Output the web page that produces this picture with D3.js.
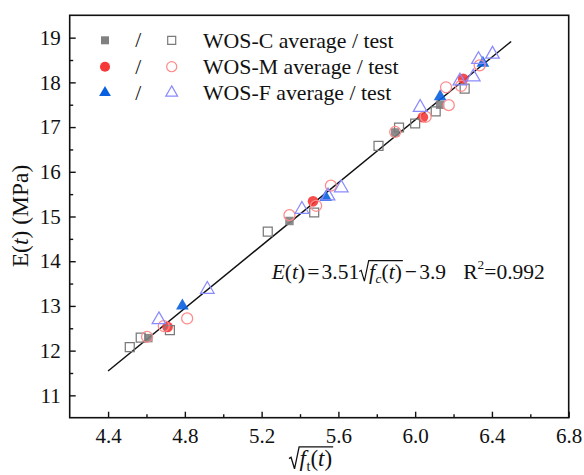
<!DOCTYPE html>
<html>
<head>
<meta charset="utf-8">
<script src="https://cdn.jsdelivr.net/npm/d3@7"></script>
<style>
  html, body { margin: 0; padding: 0; background: #fff; }
  svg { display: block; }
  svg text { font-family: 'Liberation Serif', 'Times New Roman', Times, 'DejaVu Serif', serif; fill: #111; }
</style>
</head>
<body>
<svg id="chart" width="584" height="475"></svg>
<script>
// ---------------- data ----------------
const xMajorTicks = [4.4, 4.8, 5.2, 5.6, 6.0, 6.4, 6.8];
const xMinorTicks = [4.6, 5.0, 5.4, 5.8, 6.2, 6.6];
const yMajorTicks = [11, 12, 13, 14, 15, 16, 17, 18, 19];
const yMinorTicks = [11.5, 12.5, 13.5, 14.5, 15.5, 16.5, 17.5, 18.5];

// WOS-C
const cAvgX  = [4.61, 5.345, 5.896, 6.13];
const cAvgY  = [12.28, 14.90, 16.88, 17.50];
const cTestX = [4.513, 4.570, 4.722, 5.232, 5.474, 5.809, 5.916, 6.000, 6.107, 6.258];
const cTestY = [12.08, 12.29, 12.46, 14.66, 15.09, 16.58, 16.99, 17.08, 17.35, 17.86];
// WOS-M
const mAvgX  = [4.71, 5.468, 6.04, 6.25];
const mAvgY  = [12.53, 15.34, 17.22, 18.08];
const mTestX = [4.603, 4.690, 4.812, 5.345, 5.484, 5.561, 5.896, 6.055, 6.161, 6.175, 6.239, 6.336];
const mTestY = [12.31, 12.55, 12.72, 15.03, 15.24, 15.69, 16.89, 17.23, 17.89, 17.49, 17.92, 18.38];
// WOS-F
const fAvgX  = [4.787, 5.534, 6.130, 6.353];
const fAvgY  = [13.00, 15.43, 17.68, 18.43];
const fTestX = [4.665, 4.917, 5.410, 5.546, 5.615, 6.026, 6.233, 6.303, 6.330, 6.403];
const fTestY = [12.69, 13.37, 15.16, 15.46, 15.64, 17.44, 18.03, 18.12, 18.51, 18.63];

// fit: E = a*sqrt(fc) + b
const fitA = 3.51, fitB = -3.9;
const fitRange = [4.4, 6.5];
const r2Text = "0.992";

const legendLabels = ["WOS-C average / test", "WOS-M average / test", "WOS-F average / test"];

// ---------------- layout ----------------
const svg = d3.select("#chart");
const X0 = 69.7, X1 = 568.7, Y0 = 417.7, Y1 = 15.3;
const x = d3.scaleLinear().domain([4.2, 6.8]).range([X0, X1]);
const y = d3.scaleLinear().domain([10.5, 19.5]).range([Y0, Y1]);
const FONT = "'Liberation Serif', 'Times New Roman', Times, 'DejaVu Serif', serif";

const grayFill = "#808080", grayStroke = "#7a7a7a";
const redFill = "#f53838", redStroke = "#ff8a8a";
const blueFill = "#0860e0", blueStroke = "#8a8aff";

// axes (ticks inward)
const gx = svg.append("g").attr("transform", `translate(0,${Y0})`)
  .call(d3.axisBottom(x).tickValues(xMajorTicks).tickFormat(d3.format(".1f"))
    .tickSizeInner(-6).tickSizeOuter(0).tickPadding(10));
const gxm = svg.append("g").attr("transform", `translate(0,${Y0})`)
  .call(d3.axisBottom(x).tickValues(xMinorTicks).tickFormat("")
    .tickSizeInner(-3.5).tickSizeOuter(0));
const gy = svg.append("g").attr("transform", `translate(${X0},0)`)
  .call(d3.axisLeft(y).tickValues(yMajorTicks).tickFormat(d3.format("d"))
    .tickSizeInner(-6).tickSizeOuter(0).tickPadding(9));
const gym = svg.append("g").attr("transform", `translate(${X0},0)`)
  .call(d3.axisLeft(y).tickValues(yMinorTicks).tickFormat("")
    .tickSizeInner(-3.5).tickSizeOuter(0));
[gx, gxm, gy, gym].forEach(g => {
  g.attr("font-family", null).attr("font-size", null);
  g.select(".domain").remove();
  g.selectAll(".tick line").attr("stroke", "#111").attr("stroke-width", 1.4);
  g.selectAll(".tick text").style("font-family", FONT).attr("font-size", 21).attr("fill", "#111");
});

// frame
svg.append("rect").attr("x", X0).attr("y", Y1).attr("width", X1 - X0).attr("height", Y0 - Y1)
  .attr("fill", "none").attr("stroke", "#111").attr("stroke-width", 1.6);

// fit line
svg.append("line")
  .attr("x1", x(fitRange[0])).attr("y1", y(fitA * fitRange[0] + fitB))
  .attr("x2", x(fitRange[1])).attr("y2", y(fitA * fitRange[1] + fitB))
  .attr("stroke", "#111").attr("stroke-width", 1.5);

// markers
const sq = d3.symbol().type(d3.symbolSquare).size(72);
const ci = d3.symbol().type(d3.symbolCircle).size(90);
const tr = d3.symbol().type(d3.symbolTriangle).size(70);
function pts(xs, ys) { return xs.map((v, i) => [v, ys[i]]); }
function drawMarks(data, sym, fill, stroke, opacity) {
  svg.append("g").selectAll("path").data(data).join("path")
    .attr("d", sym)
    .attr("transform", d => `translate(${x(d[0])},${y(d[1])})`)
    .attr("fill", fill || "none")
    .attr("fill-opacity", opacity || 1)
    .attr("stroke", stroke || "none")
    .attr("stroke-width", 1.25);
}
drawMarks(pts(cAvgX, cAvgY), sq, grayFill, null, 0.9);
drawMarks(pts(mAvgX, mAvgY), ci, redFill, null, 0.9);
drawMarks(pts(fAvgX, fAvgY), tr, blueFill, null, 0.9);
drawMarks(pts(cTestX, cTestY), d3.symbol().type(d3.symbolSquare).size(80), null, grayStroke);
drawMarks(pts(mTestX, mTestY), d3.symbol().type(d3.symbolCircle).size(95), null, redStroke);
drawMarks(pts(fTestX, fTestY), d3.symbol().type(d3.symbolTriangle).size(80), null, blueStroke);

// legend
const legRows = [40.3, 66.7, 92.7];
const legFilled = [[d3.symbol().type(d3.symbolSquare).size(64), grayFill],
                   [d3.symbol().type(d3.symbolCircle).size(80), redFill],
                   [d3.symbol().type(d3.symbolTriangle).size(60), blueFill]];
const legOpen = [[d3.symbol().type(d3.symbolSquare).size(64), grayStroke],
                 [d3.symbol().type(d3.symbolCircle).size(80), redStroke],
                 [d3.symbol().type(d3.symbolTriangle).size(60), blueStroke]];
legendLabels.forEach((lab, i) => {
  const cy = legRows[i];
  svg.append("path").attr("d", legFilled[i][0]).attr("transform", `translate(105,${cy})`)
    .attr("fill", legFilled[i][1]);
  svg.append("text").attr("x", 138.3).attr("y", cy + 7).attr("text-anchor", "middle")
    .attr("font-size", 21.5).text("/");
  svg.append("path").attr("d", legOpen[i][0]).attr("transform", `translate(171.7,${cy})`)
    .attr("fill", "none").attr("stroke", legOpen[i][1]).attr("stroke-width", 1.2);
  svg.append("text").attr("x", 203).attr("y", cy + 7.5).attr("font-size", 21.8).text(lab);
});

// rich text helper
function rich(g, x0, y0, fs, parts) {
  let cx = x0;
  const marks = {};
  parts.forEach(p => {
    if (p.gap) { cx += p.gap * fs; return; }
    if (p.mark) { marks[p.mark] = cx; return; }
    const size = p.sub || p.sup ? fs * 0.62 : fs;
    const dy = p.sub ? fs * 0.22 : (p.sup ? -fs * 0.42 : 0);
    const t = g.append("text").attr("x", cx).attr("y", y0 + dy)
      .attr("font-size", size).attr("font-style", p.i ? "italic" : "normal").text(p.t);
    cx += t.node().getComputedTextLength() + (p.after || 0);
  });
  return { end: cx, marks };
}
function radical(g, xs, xe, yb, fs, sw) {
  const top = yb - 0.83 * fs;
  const p = d3.path();
  p.moveTo(xs, yb - 0.32 * fs);
  p.lineTo(xs + 0.09 * fs, yb - 0.38 * fs);
  p.lineTo(xs + 0.24 * fs, yb + 0.12 * fs);
  p.lineTo(xs + 0.44 * fs, top);
  p.lineTo(xe, top);
  g.append("path").attr("d", p.toString()).attr("fill", "none").attr("stroke", "#111").attr("stroke-width", sw);
}

// equation
{
  const g = svg.append("g");
  const fs = 21.5, yb = 278.5;
  const r = rich(g, 271.7, yb, fs, [
    { t: "E", i: true }, { t: "(" }, { t: "t", i: true }, { t: ")" },
    { gap: 0.1 }, { t: "=" }, { gap: 0.1 }, { t: "3.51" },
    { mark: "rs" }, { gap: 0.46 },
    { t: "f", i: true, after: 0.5 }, { t: "c", i: true, sub: true }, { t: "(" }, { t: "t", i: true }, { t: ")" },
    { mark: "re" }, { gap: 0.14 },
    { t: "\u2212" }, { gap: 0.1 }, { t: "3.9" }, { gap: 0.8 },
    { t: "R" }, { t: "2", sup: true }, { t: "=" + r2Text }
  ]);
  radical(g, r.marks.rs, r.marks.re + 1, yb, fs, 1.2);
}

// y title
svg.append("text")
  .attr("transform", `translate(28,216) rotate(-90)`)
  .attr("text-anchor", "middle").attr("font-size", 23.5)
  .html('E(<tspan font-style="italic">t</tspan>) (MPa)');

// x title: sqrt(f_t(t))
{
  const g = svg.append("g");
  const fs = 23, yb = 466;
  const r = rich(g, 289, yb, fs, [
    { mark: "rs" }, { gap: 0.46 },
    { t: "f", i: true, after: 0.5 }, { t: "t", sub: true }, { t: "(" }, { t: "t", i: true }, { t: ")" },
    { mark: "re" }
  ]);
  radical(g, r.marks.rs, r.marks.re + 1, yb, fs, 1.3);
}
</script>
</body>
</html>
